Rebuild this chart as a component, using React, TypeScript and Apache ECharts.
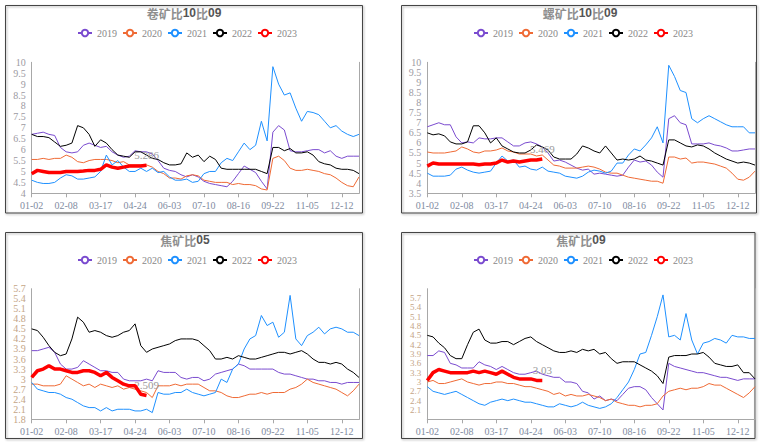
import React, { useEffect, useRef } from 'react';
import * as echarts from 'echarts';

const dates = [
  '01-02','01-09','01-16','01-20','01-30','02-02',
  '02-08','02-14','02-20','02-27','03-03','03-10',
  '03-17','03-23','03-29','04-06','04-12','04-18',
  '04-24','05-04','05-10','05-16','05-22','05-28',
  '06-03','06-09','06-15','06-22','06-28','07-04',
  '07-10','07-16','07-22','07-28','08-03','08-09',
  '08-16','08-22','08-28','09-03','09-09','09-15',
  '09-22','09-29','10-12','10-18','10-24','10-30',
  '11-05','11-11','11-17','11-23','11-29','12-05',
  '12-12','12-18','12-24','12-30'
];

const years = ['2019', '2020', '2021', '2022', '2023'];
const colors = ['#7a4bcf', '#ef6a35', '#1e90ff', '#000000', '#ff0000'];

// Panel 1: 卷矿比10比09
const c2019 = [6.7,6.75,6.8,6.7,6.65,6.1, 5.9,5.85,5.9,6.2,6.3,6.2, 6.1,6.15,5.9,5.75,5.65,5.7, 5.95,5.9,5.9,5.8,5.5,5.15, 5.05,5.0,4.85,4.75,4.85,4.75, 4.55,4.45,4.4,4.35,4.3,4.55, 4.9,5.25,5.1,4.95,4.55,4.2, 6.8,7.1,6.9,5.95,5.9,5.9, 5.95,6.0,6.0,5.85,5.95,5.7, 5.6,5.7,5.7,5.7];
const c2020 = [5.55,5.55,5.6,5.55,5.6,5.6, 5.75,5.65,5.45,5.4,5.5,5.55, 5.55,5.55,5.5,5.4,5.45,5.3, 5.3,5.3,5.3,5.2,5.0,4.9, 4.7,4.7,4.65,4.8,4.85,4.8, 4.6,4.55,4.5,4.5,4.5,4.4, 4.45,4.4,4.4,4.35,4.2,4.15, 5.6,5.7,5.5,5.15,5.05,5.05, 5.1,5.05,5.0,4.9,4.85,4.7, 4.5,4.35,4.3,4.75];
const c2021 = [4.6,4.5,4.45,4.45,4.5,4.7, 4.85,4.8,4.65,4.65,4.7,4.75, 5.0,5.75,5.3,5.5,5.2,5.0, 5.0,5.15,5.0,5.15,4.95,5.0, 4.75,4.6,4.6,4.65,4.5,4.55, 4.9,5.0,5.0,5.4,5.6,5.5, 5.9,6.3,6.0,6.2,7.3,6.4, 9.8,9.0,8.5,8.6,7.9,7.3, 7.75,7.7,7.6,7.3,7.0,7.1, 6.85,6.7,6.6,6.7];
const c2022 = [6.7,6.6,6.6,6.55,6.35,6.15, 6.2,6.3,7.1,7.0,6.7,6.15, 6.45,6.3,6.0,5.75,5.7,5.65, 5.9,5.9,5.75,5.6,5.55,5.4, 5.3,5.3,5.35,5.85,5.65,5.75, 5.45,5.7,5.55,5.15,5.1,5.1, 5.1,5.1,5.1,5.1,5.0,4.9, 6.1,6.1,5.95,6.05,5.85,5.85, 5.9,5.75,5.45,5.35,5.3,5.15, 5.1,5.1,5.05,4.9];
const c2023 = [4.9,5.05,5.0,4.95,4.95,4.95, 5.0,5.0,5.0,5.02,5.05,5.05, 5.1,5.3,5.2,5.15,5.2,5.25, 5.25,5.25,5.286];

// Panel 2: 螺矿比10比09
const r2019 = [6.8,6.9,7.0,6.9,6.9,6.3, 6.0,6.05,6.0,6.25,6.2,6.2, 6.25,6.25,6.05,5.85,5.85,6.0, 6.05,5.95,5.8,5.5,5.1,5.15, 5.05,4.9,4.75,4.65,4.7,4.45, 4.5,4.45,4.4,4.35,4.4,4.8, 5.15,5.05,5.1,4.9,4.55,4.3, 7.2,7.35,7.0,6.9,5.95,5.95, 5.95,6.0,5.9,5.85,5.75,5.6, 5.6,5.65,5.7,5.7];
const r2020 = [5.55,5.5,5.5,5.5,5.55,5.6, 5.8,5.7,5.55,5.5,5.6,5.6, 5.65,5.75,5.6,5.55,5.45,5.45, 5.45,5.35,5.4,5.15,4.9,4.85, 4.75,4.75,4.75,4.8,4.85,4.8, 4.7,4.55,4.5,4.5,4.4,4.3, 4.25,4.2,4.15,4.1,4.1,4.0, 5.3,5.3,5.2,5.25,5.0,5.05, 5.05,5.0,4.95,4.85,4.75,4.5, 4.2,4.15,4.3,4.6];
const r2021 = [4.5,4.35,4.35,4.35,4.4,4.7, 4.8,4.65,4.55,4.5,4.55,4.6, 5.0,5.35,5.1,5.15,4.8,4.85, 4.7,4.65,4.8,4.6,4.55,4.5, 4.35,4.3,4.25,4.35,4.55,4.65, 4.6,4.5,4.6,5.0,5.0,5.4, 5.7,5.6,5.9,6.25,6.8,6.0, 9.85,9.3,8.6,8.5,7.2,7.0, 7.2,7.35,7.2,7.05,6.9,6.8, 6.8,6.8,6.5,6.5];
const r2022 = [6.5,6.4,6.45,6.35,6.05,5.95, 5.95,6.05,6.85,6.85,6.5,6.0, 6.25,5.85,5.7,5.55,5.5,5.5, 5.65,5.9,5.8,5.65,5.3,5.2, 5.2,5.2,5.45,5.85,5.75,5.6, 5.5,5.85,5.5,5.15,5.2,5.15, 5.2,5.35,5.15,5.1,5.0,4.9, 6.15,6.15,6.0,5.85,5.8,5.9, 5.85,5.7,5.5,5.35,5.2,5.1, 5.0,5.05,5.0,4.9];
const r2023 = [4.85,5.0,4.95,4.95,4.95,4.95, 4.95,4.95,4.95,4.92,4.95,4.95, 5.0,5.15,5.05,5.1,5.05,5.1, 5.15,5.15,5.2];

// Panel 3: 焦矿比05
const k2019 = [3.85,3.85,3.9,3.95,3.8,3.45, 3.3,3.3,3.35,3.55,3.45,3.35, 3.25,3.25,3.2,3.2,3.0,2.95, 2.95,2.95,3.0,2.95,3.25,3.2, 3.2,3.2,3.05,3.0,3.05,3.05, 2.95,3.0,3.15,3.2,3.25,3.3, 3.45,3.4,3.3,3.3,3.3,3.3, 3.3,3.2,3.15,3.15,3.1,3.05, 3.0,3.0,2.95,2.95,2.9,2.9, 2.85,2.9,2.9,2.9];
const k2020 = [2.85,2.85,2.8,2.8,2.8,2.85, 3.1,3.0,2.9,2.8,2.85,2.75, 2.85,2.8,2.75,2.8,2.7,2.75, 2.7,2.65,2.6,2.45,2.8,2.8, 2.8,2.85,2.8,2.85,2.85,2.85, 2.75,2.65,2.65,2.6,2.5,2.45, 2.45,2.5,2.55,2.55,2.6,2.55, 2.6,2.6,2.6,2.7,2.75,2.85, 3.0,2.9,2.85,2.8,2.75,2.7, 2.6,2.5,2.65,2.85];
const k2021 = [2.9,2.7,2.65,2.6,2.6,2.55, 2.45,2.4,2.3,2.2,2.15,2.15, 2.05,2.15,2.05,2.1,2.1,2.1, 2.05,2.05,2.1,2.0,2.6,2.55, 2.55,2.6,2.6,2.7,2.6,2.55, 2.5,2.55,2.6,3.0,2.9,3.3, 3.45,3.9,4.2,4.3,4.9,4.6, 4.7,4.25,4.4,5.5,4.2,4.0, 4.3,4.4,4.55,4.35,4.5,4.55, 4.5,4.4,4.4,4.3];
const k2022 = [4.5,4.45,4.25,4.0,3.8,3.7, 3.75,4.2,4.85,4.7,4.4,4.45, 4.4,4.3,4.25,4.3,4.4,4.45, 4.65,4.0,3.8,3.9,3.95,4.0, 4.05,4.15,4.2,4.2,4.2,4.15, 4.0,3.85,3.6,3.6,3.65,3.6, 3.7,3.65,3.6,3.6,3.65,3.7, 3.75,3.8,3.8,3.75,3.8,3.85, 3.75,3.6,3.5,3.5,3.45,3.5, 3.45,3.3,3.2,3.05];
const k2023 = [3.05,3.25,3.3,3.4,3.3,3.3, 3.25,3.2,3.2,3.25,3.25,3.2, 3.1,3.2,3.05,2.95,2.85,2.8, 2.8,2.55,2.509];

// Panel 4: 焦矿比09
const j2019 = [3.85,3.85,4.0,3.95,3.6,3.55, 3.45,3.45,3.45,3.65,3.55,3.5, 3.4,3.5,3.4,3.3,3.25,3.25, 3.3,3.35,3.25,3.2,3.15,3.15, 3.0,3.0,2.95,2.7,2.65,2.45, 2.55,2.4,2.45,2.4,2.6,2.8, 2.85,2.85,2.75,2.5,2.3,2.1, 3.6,3.5,3.45,3.4,3.35,3.3, 3.3,3.25,3.2,3.15,3.15,3.1, 3.05,3.1,3.1,3.1];
const j2020 = [3.0,3.05,2.95,2.95,3.0,3.05, 3.1,3.0,2.95,2.9,2.95,2.95, 3.0,3.0,2.95,2.95,2.9,2.85, 2.85,2.8,2.75,2.7,2.6,2.65, 2.55,2.6,2.55,2.55,2.6,2.55, 2.5,2.4,2.45,2.35,2.3,2.25, 2.25,2.2,2.25,2.25,2.3,2.55, 2.7,2.75,2.8,2.75,2.8,2.8, 2.85,2.95,2.9,2.9,2.8,2.7, 2.6,2.5,2.65,2.85];
const j2021 = [2.85,2.7,2.65,2.6,2.65,2.7, 2.6,2.5,2.4,2.3,2.25,2.35, 2.4,2.45,2.4,2.45,2.4,2.35, 2.35,2.3,2.25,2.2,2.2,2.3, 2.25,2.2,2.25,2.35,2.25,2.2, 2.15,2.2,2.3,2.5,2.75,3.0, 3.4,3.9,3.95,4.5,5.1,5.8, 4.45,4.5,4.35,5.2,4.35,3.9, 4.25,4.3,4.4,4.35,4.25,4.5, 4.45,4.45,4.4,4.4];
const j2022 = [4.5,4.45,4.25,4.1,3.85,3.75, 3.75,4.2,4.6,4.7,4.35,4.25, 4.25,4.3,4.3,4.2,4.3,4.4, 4.45,4.3,4.2,4.1,4.0,3.95, 3.95,4.0,3.95,4.05,4.0,4.05, 3.9,3.95,3.75,3.6,3.65,3.65, 3.65,3.55,3.45,3.35,3.2,2.95, 3.8,3.85,3.85,3.85,3.9,3.9, 3.95,3.8,3.6,3.55,3.5,3.5, 3.55,3.3,3.3,3.1];
const j2023 = [3.05,3.3,3.4,3.35,3.3,3.3, 3.3,3.3,3.35,3.3,3.35,3.3, 3.25,3.35,3.25,3.15,3.1,3.1, 3.1,3.05,3.05];

const endLabels = ['5.286', '5.469', '2.509', '3.03'];

const panels = [
  { t1: '卷矿比', n1: '10', t2: '比', n2: '09', series: [c2019, c2020, c2021, c2022, c2023], min: 4, max: 10, interval: 0.5, edge: true },
  { t1: '螺矿比', n1: '10', t2: '比', n2: '09', series: [r2019, r2020, r2021, r2022, r2023], min: 3.5, max: 10, interval: 0.5, edge: true },
  { t1: '焦矿比', n1: '05', t2: '', n2: '', series: [k2019, k2020, k2021, k2022, k2023], min: 1.8, max: 5.7, interval: 0.3, edge: true },
  { t1: '焦矿比', n1: '09', t2: '', n2: '', series: [j2019, j2020, j2021, j2022, j2023], min: 1.8, max: 6.0, interval: 0.3, edge: false },
];

// layout (pixels)
const layout = [
  { left: 31.7, right: 405, top: 62.3, bottom: 249.7, cx: 184, ty: 7, ly: 28, lx: 77, labelColor: '#9c9aa2', labelSize: 10, box: [5.5, 5.5, 357, 207.5] },
  { left: 427.3, right: 9, top: 62.3, bottom: 249.7, cx: 580, ty: 7, ly: 28, lx: 473, labelColor: '#9c9aa2', labelSize: 10, box: [401.5, 5.5, 355, 207.5] },
  { left: 31.7, right: 405, top: 288.7, bottom: 23.7, cx: 185, ty: 234, ly: 255, lx: 77, labelColor: '#c4a587', labelSize: 10, box: [5.5, 232.5, 357, 206] },
  { left: 427.3, right: 9, top: 288.7, bottom: 23.7, cx: 581, ty: 234, ly: 255, lx: 473, labelColor: '#c4a587', labelSize: 9, box: [401.5, 232.5, 353.5, 206] },
];

const serif = '"Liberation Serif", "DejaVu Serif", serif';

export default function App() {
  const ref = useRef<HTMLDivElement>(null);
  useEffect(() => {
    if (!ref.current) return;
    const chart = echarts.init(ref.current, undefined, { renderer: 'svg' });
    const grid: any[] = [];
    const xAxis: any[] = [];
    const yAxis: any[] = [];
    const title: any[] = [];
    const legend: any[] = [];
    const series: any[] = [];
    const graphic: any[] = [];
    panels.forEach((p, g) => {
      const L = layout[g];
      grid.push({ left: L.left, right: L.right, top: L.top, bottom: L.bottom, containLabel: false });
      xAxis.push({
        type: 'category', gridIndex: g, data: dates, boundaryGap: false,
        axisLine: { lineStyle: { color: '#a8a8a8' } },
        axisTick: { show: true, interval: 5, length: 4, lineStyle: { color: '#a8a8a8' } },
        axisLabel: { interval: 5, color: '#7f8c9f', fontFamily: serif, fontSize: 10, margin: 7 },
        splitLine: { show: false },
      });
      yAxis.push({
        type: 'value', gridIndex: g, min: p.min, max: p.max, interval: p.interval,
        axisLine: { show: true, lineStyle: { color: '#a8a8a8' } },
        axisTick: { show: false }, splitLine: { show: false },
        axisLabel: { color: L.labelColor, fontFamily: serif, fontSize: L.labelSize, lineHeight: 8, margin: 6, showMinLabel: p.edge, showMaxLabel: p.edge },
      });
      yAxis.push({
        type: 'value', gridIndex: g, min: p.min, max: p.max, interval: p.interval, position: 'right',
        axisLine: { show: true, lineStyle: { color: '#a8a8a8' } },
        axisTick: { show: false }, splitLine: { show: false }, axisLabel: { show: false },
      });
      title.push({
        text: '{a|' + p.t1 + '}{b|' + p.n1 + '}' + (p.t2 ? '{a|' + p.t2 + '}{b|' + p.n2 + '}' : ''),
        left: L.cx, top: L.ty, textAlign: 'center', padding: 0,
        textStyle: {
          rich: {
            a: { fontFamily: '"Noto Sans CJK SC", sans-serif', fontSize: 12, color: '#8f8f8f' },
            b: { fontFamily: '"Liberation Sans", Arial, sans-serif', fontSize: 12, fontWeight: 'bold', color: '#555' },
          },
        },
      });
      legend.push({
        data: years, left: L.lx, top: L.ly, padding: 0, itemWidth: 14, itemHeight: 8, itemGap: 5,
        textStyle: { color: '#888', fontFamily: serif, fontSize: 10 },
      });
      p.series.forEach((d, k) => {
        const isLast = k === 4;
        const s: any = {
          type: 'line', name: years[k], xAxisIndex: g, yAxisIndex: g * 2, data: d,
          symbol: 'emptyCircle', showSymbol: false, z: isLast ? 5 : 2,
          lineStyle: { width: isLast ? 3.5 : 1, color: colors[k] },
          itemStyle: { color: colors[k] },
        };
        if (isLast) {
          s.markPoint = {
            symbol: 'circle', symbolSize: 0, silent: true,
            data: [{ coord: [dates[d.length - 1], d[d.length - 1]], value: endLabels[g] }],
            label: { show: true, position: 'top', distance: 5, formatter: '{c}', color: '#9a9a9a', fontFamily: serif, fontSize: 11 },
          };
        }
        series.push(s);
      });
      graphic.push({
        type: 'rect', shape: { x: L.box[0], y: L.box[1], width: L.box[2], height: L.box[3] },
        style: { fill: 'none', stroke: '#444', lineWidth: 1, shadowBlur: 2, shadowOffsetX: 1, shadowOffsetY: 1, shadowColor: 'rgba(0,0,0,0.35)' },
        silent: true, z: 0,
      });
    });
    chart.setOption({
      animation: false, backgroundColor: '#fff',
      grid, xAxis, yAxis, title, legend, series, graphic,
    });
    return () => chart.dispose();
  }, []);
  return <div ref={ref} style={{ position: 'fixed', left: 0, top: 0, width: 764, height: 443, background: '#fff' }} />;
}
